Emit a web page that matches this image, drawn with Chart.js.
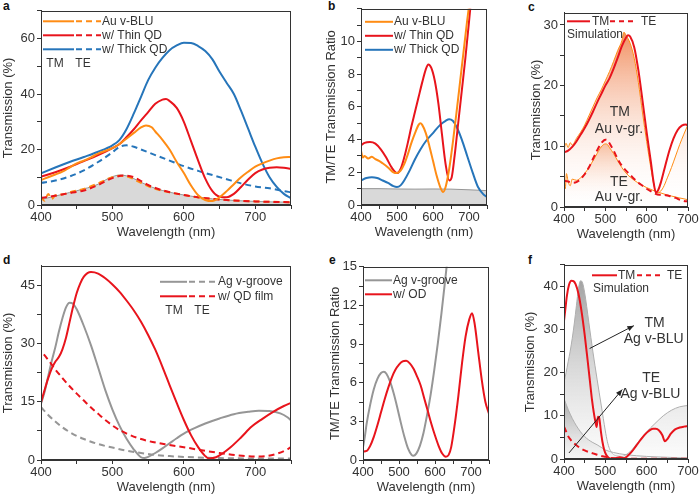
<!DOCTYPE html>
<html>
<head>
<meta charset="utf-8">
<script src="https://cdn.jsdelivr.net/npm/chart.js@4.4.1/dist/chart.umd.min.js"></script>
<style>
  body { margin: 0; background: #fff; width: 700px; height: 495px; position: relative; overflow: hidden; font-family: "Liberation Sans", Arial, sans-serif; }
  canvas { position: absolute; }
  .tag { position: absolute; font-weight: bold; font-size: 12px; line-height: 12px; color: #111; }
</style>
</head>
<body>
<div class="tag" style="left:3px;top:0px">a</div>
<div class="tag" style="left:328px;top:0px">b</div>
<div class="tag" style="left:528px;top:1px">c</div>
<div class="tag" style="left:3px;top:254px">d</div>
<div class="tag" style="left:329px;top:254px">e</div>
<div class="tag" style="left:528px;top:254px">f</div>

<script>
// ---- panel a : transmission, Au v-BLU / thin QD / thick QD ----
const aWlOrangeTM = [400,410,420,430,440,450,460,470,480,490,500,510,520,530,540,547,555,560,570,580,590,600,610,620,630,640,650,660,670,680,690,700,710,720,730,740,750];
const aOrangeTM   = [9,10,11,12,13.5,15,16,17.2,18.5,19.5,20.5,22,24,26,28,28.7,28,26.5,23.5,20,15.5,11.5,7,3.5,1.8,1.4,2.8,5,7.5,10,12,13.8,15,16,16.8,17.2,17.3];
const aWlRedTM = [400,420,440,460,480,500,510,520,530,540,550,560,570,575,580,590,600,610,620,630,640,650,660,670,680,690,700,710,720,730,740,750];
const aRedTM   = [10.2,11.8,13.7,15.8,18,20.5,22,24.5,27.3,30.5,33.5,36.5,38,38.2,37.5,35,30,23,16,9.5,5,3,2.8,4,6.5,9.2,11.5,12.8,13.4,13.6,13.4,13];
const aWlBlueTM = [400,420,440,460,480,500,510,520,530,540,550,560,570,580,590,600,610,620,630,640,650,660,670,680,690,700,710,720,730,740,750];
const aBlueTM   = [11.4,13.5,15.5,17.3,19.2,21.5,23.5,27.5,33,39,45,49.5,53,55.8,57.5,58.5,58.4,57.3,55.5,52.5,48,44,40,34,27.5,21,15,10,6.5,4,2.5];
const aWlBlueTE = [400,420,440,460,480,500,510,520,530,540,560,580,600,620,640,660,680,700,720,740,750];
const aBlueTE   = [8,8.8,10.3,12.5,15.5,19,21,21.5,21,20,18,16,14,12.3,10.8,9.3,7.8,6.7,6,5,4.6];
const aWlOrangeTE = [400,405,410,415,420,430,440,460,480,500,510,520,540,560,580,600,620,640,660,700,750];
const aOrangeTE   = [3,1.5,4,2.2,3.5,3.8,4.6,5.8,7.8,10,10.5,10.3,8,5.8,4.6,3.6,2.7,2.2,1.8,1.3,1];
const aWlRedTE = [400,420,440,460,480,500,515,530,550,570,600,620,650,700,750];
const aRedTE   = [2.5,3.3,4.3,5.2,7.2,9.7,10.6,10,7.2,5.3,3.6,2.8,2,1.3,1];
const aWlGrey = [400,420,440,460,480,490,500,510,520,530,540,550,560,580,600,620,640,660,680,700,725,750];
const aGrey   = [2,3.2,4.5,5.8,7.5,9,10.2,10.8,10.5,9.5,8.2,7,6,4.6,3.6,2.8,2.2,1.8,1.5,1.3,1.1,1];
const aLegend = ['Au v-BLU', 'w/ Thin QD', 'w/ Thick QD'];

// ---- panel b : TM/TE ratio ----
const bWlOrange = [400,405,410,420,430,440,450,460,475,490,500,510,520,530,540,550,560,565,570,580,590,600,610,620,628,635,645,655,665,675,685,695,705];
const bOrange   = [3.3,2.9,3.0,2.85,2.95,2.8,2.7,2.55,2.3,2.0,1.95,2.1,2.5,3.1,3.8,4.4,4.9,5.0,4.9,4.4,3.6,2.7,1.8,1.1,0.8,1.1,2.2,3.8,5.6,7.5,9.4,11.3,13];
const bWlRed = [400,410,425,440,455,470,485,500,510,520,530,540,550,560,570,580,587,595,605,615,625,635,645,652,660,670,680,690,700,706];
const bRed   = [3.65,3.8,3.85,3.75,3.4,2.9,2.3,1.95,2.2,2.9,3.8,4.8,5.7,6.6,7.5,8.3,8.6,8.4,7.6,6.2,4.3,2.5,1.5,1.7,3.0,5.0,7.0,9.0,11.2,12.6];
const bWlBlue = [400,415,430,445,460,475,490,500,510,520,535,550,565,580,600,620,635,645,655,665,680,695,710,725,740,750];
const bBlue   = [1.5,1.65,1.7,1.65,1.5,1.35,1.15,1.1,1.2,1.5,2.1,2.8,3.4,3.9,4.4,4.9,5.15,5.25,5.15,4.8,4.0,3.0,2.0,1.1,0.65,0.5];
const bWlGrey = [400,450,500,550,600,650,700,750];
const bGrey   = [1.0,1.0,0.98,0.97,0.98,0.97,0.93,0.88];

// ---- panel c : Au v-groove, simulation vs experiment ----
const cWlSimTM = [400,410,420,430,440,450,460,470,480,490,500,510,520,530,540,550,555,560,570,580,590,600,610,617,622,628,635,645,655,665,675,685,695,700];
const cSimTM   = [9,9.3,9.9,10.8,11.9,13,14.3,15.7,17.2,18.6,20,21.2,22.8,24.6,26.5,27.9,28.3,28.1,26.3,22.5,17.5,12.3,7.5,4,2.4,2.8,4.2,6.8,9.3,11.3,12.7,13.4,13.6,13.4];
const cWlSimTE = [400,410,420,430,440,450,460,470,480,490,500,505,510,520,530,540,550,560,570,580,590,600,610,620,630,640,650,660,670,680,690,700];
const cSimTE   = [4.3,4.2,4.0,4.1,4.6,5.4,6.5,7.9,9.3,10.5,11.1,11.0,10.5,9.3,7.9,6.8,6,5.3,4.6,4.0,3.5,3.0,2.6,2.2,2.0,2.0,1.9,1.7,1.5,1.2,1.0,0.9];
const cWlExpTM = [400,405,410,415,420,430,440,450,460,470,480,490,500,510,520,530,540,545,550,560,570,580,590,600,610,618,625,632,640,650,660,670,680,690,700];
const cExpTM   = [9.5,10.5,9.8,10.6,10.2,11.3,12.3,13.5,15,16.5,18,19.3,20.8,22.3,24,25.8,27.4,28.8,28.3,27,24.5,20.5,15.5,10.8,6.5,3.5,2.3,2.5,3.2,4.8,6.5,8.4,10.3,12,13.6];
const cWlExpTE = [400,403,406,410,415,420,430,440,450,460,470,480,490,500,505,510,520,530,540,550,570,600,630,660,700];
const cExpTE   = [5,3,5.5,4.2,3.5,4.6,4.4,4.8,5.5,6.5,7.6,8.8,9.9,10.4,10.3,9.8,8.8,7.6,6.5,5.6,4.4,3.2,2.4,1.8,1.2];

// ---- panel d : Ag v-groove, with QD film ----
const dWlGreyTM = [400,405,410,415,420,425,430,435,440,445,450,460,470,480,490,500,510,520,530,540,545,550,560,570,580,590,600,615,630,650,670,690,705,720,735,745,750];
const dGreyTM   = [14.5,17.5,21.5,25.5,29,33,36.5,39.3,40.5,40.2,38.8,34.5,29.5,23.8,18,13,8.8,5.4,2.7,0.7,0.5,0.8,1.8,3.0,4.3,5.6,6.8,8.2,9.4,10.7,11.8,12.4,12.7,12.6,12.0,11.0,10.2];
const dWlRedTM = [400,405,410,415,420,425,430,435,440,445,450,455,460,465,470,480,490,500,510,520,530,540,550,560,570,580,590,600,610,620,630,635,645,655,665,680,695,710,725,740,750];
const dRedTM   = [14.8,18,21,23.5,25.3,26.5,28.5,31.5,35.5,39.5,43,45.5,47.2,48.1,48.4,48.0,46.8,45.2,43.3,41,38.5,35.6,32.2,28.4,24,19.3,14.7,10.3,6.4,3.3,1.0,0.4,0.7,1.8,3.2,5.8,8.6,10.6,12.4,13.9,14.7];
const dWlRedTE = [404,410,420,430,440,450,460,470,480,490,500,510,520,535,550,575,600,625,650,675,700,715,730,740,750];
const dRedTE   = [27.2,25.8,23.3,21.1,19,17.1,15.3,13.5,11.9,10.3,8.9,7.7,6.8,5.7,4.9,4,3.3,2.5,1.8,1.2,0.9,1,1.6,2.3,3.3];
const dWlGreyTE = [400,410,420,430,440,450,460,470,480,490,500,520,540,560,580,600,650,700,750];
const dGreyTE   = [13.6,11.6,9.9,8.4,7.2,6.2,5.4,4.7,4.1,3.6,3.2,2.4,1.8,1.3,1.0,0.8,0.5,0.4,0.4];
const dLegend = ['Ag v-groove', 'w/ QD film'];

// ---- panel e : TM/TE ratio, Ag ----
const eWlGrey = [400,405,410,420,430,440,450,458,465,475,485,495,505,515,525,535,540,548,558,568,578,588,598,608,618,628,633];
const eGrey   = [1.0,1.8,2.8,4.3,5.5,6.3,6.75,6.85,6.7,6.1,5.2,4.1,2.9,1.8,0.9,0.4,0.33,0.5,1.1,2.1,3.5,5.1,7.0,9.1,11.4,13.9,15.2];
const eWlRed = [400,410,420,430,440,450,460,470,480,490,500,510,520,530,540,550,560,570,580,590,600,610,620,630,638,645,655,665,675,685,695,703,710,720,730,740,750];
const eRed   = [0.65,0.7,1.1,1.8,2.7,3.7,4.7,5.6,6.4,7.0,7.4,7.65,7.7,7.5,7.1,6.5,5.8,4.8,3.8,2.8,1.9,1.1,0.5,0.25,0.4,1.0,2.8,5.0,7.5,9.6,10.9,11.4,10.6,8.4,6.2,4.5,3.6];
const eLegend = ['Ag v-groove', 'w/ OD'];

// ---- panel f : Ag v-BLU, simulation vs experiment ----
const fWlSimTM = [400,403,407,412,418,423,428,435,442,450,457,463,468,472,476,479,482,485,489,493,497,502,508,515,525,535,545,555,565,575,585,595,605,615,622,630,638,644,650,658,668,680,690,700];
const fSimTM   = [32,34.5,37.8,40.3,41.3,41.2,40.5,38.3,34.5,28.8,23,17.8,13.5,10.8,8.6,7.4,9.8,9.6,6.6,4,2.2,1,0.3,0.1,0.2,0.4,0.2,0.8,1.8,3.1,4.4,5.6,6.5,7.0,7.0,6.6,5.5,4.1,4.6,5.8,6.8,7.3,7.5,7.6];
const fWlSimTE = [400,405,410,415,420,430,440,450,460,470,480,490,500,510,520,540,700];
const fSimTE   = [7.5,6.4,5.3,4.6,4,3.2,2.5,2.0,1.6,1.3,1.0,0.7,0.5,0.3,0.2,0.1,0.05];
const fWlExpTM = [400,405,410,415,420,425,430,435,440,445,450,455,460,470,480,490,500,505,510,515,520,530,540,550,560,570,580,590,600,620,640,660,680,700];
const fExpTM   = [17.8,20,22.5,25,28,31.5,35.5,39.5,41.3,40.8,38.5,35.3,31.7,24.8,18.5,12.5,6.5,4,2.4,1.5,1.0,0.7,0.6,1.0,1.7,2.8,4.0,5.2,6.3,8.2,10.0,11.3,12.1,12.4];
const fWlExpTE = [400,410,420,430,440,450,460,470,480,490,500,520,550,600,650,700];
const fExpTE   = [14,11.5,9.4,7.7,6.3,5.2,4.4,3.8,3.3,2.7,2.1,1.5,1.0,0.6,0.4,0.2];

const ORANGE = 'rgb(255,140,20)';
const RED = 'rgb(232,20,28)';
const BLUE = 'rgb(38,117,186)';
const GREY = 'rgb(150,150,150)';
const INK = '#333';
const DASH = [6, 4];
const FONT = '"Liberation Sans", Arial, sans-serif';

Chart.defaults.font.family = FONT;
Chart.defaults.color = INK;
Chart.defaults.animation = false;

function pts(xs, ys) {
  return xs.map((x, i) => ({ x: x, y: ys[i] }));
}

function line(xs, ys, color, extra) {
  return Object.assign({
    data: pts(xs, ys),
    borderColor: color,
    borderWidth: 2,
    pointRadius: 0,
    fill: false,
    cubicInterpolationMode: 'monotone'
  }, extra || {});
}

// vertical gradient between two values of the y scale
function vgrad(top, c0, c1) {
  return function (c) {
    const ch = c.chart;
    if (!ch.chartArea) return c0;
    const y = ch.scales.y;
    const g = ch.ctx.createLinearGradient(0, y.getPixelForValue(top), 0, y.getPixelForValue(0));
    g.addColorStop(0, c0);
    g.addColorStop(1, c1);
    return g;
  };
}

const boxPlugin = {
  id: 'box',
  afterDraw(chart) {
    const a = chart.chartArea, ctx = chart.ctx;
    ctx.save();
    ctx.strokeStyle = INK;
    ctx.lineWidth = 1;
    ctx.strokeRect(Math.round(a.left) + 0.5, Math.round(a.top) + 0.5, Math.round(a.right - a.left) - 1, Math.round(a.bottom - a.top) - 1);
    ctx.restore();
  }
};

// legend swatches, texts and arrows
function notesPlugin(notes) {
  return {
    id: 'notes',
    afterDatasetsDraw(chart) {
      const ctx = chart.ctx, a = chart.chartArea, sx = chart.scales.x, sy = chart.scales.y;
      ctx.save();
      notes.forEach(n => {
        if (n.seg) {
          ctx.strokeStyle = n.color;
          ctx.lineWidth = 2;
          ctx.setLineDash(n.dash || []);
          ctx.beginPath();
          ctx.moveTo(a.left + n.seg[0], a.top + n.y);
          ctx.lineTo(a.left + n.seg[1], a.top + n.y);
          ctx.stroke();
          ctx.setLineDash([]);
        } else if (n.text) {
          ctx.fillStyle = INK;
          ctx.font = (n.size || 12) + 'px ' + FONT;
          ctx.textAlign = n.align || 'left';
          ctx.textBaseline = 'middle';
          ctx.fillText(n.text, a.left + n.x, a.top + n.y);
        } else if (n.dtext) {
          ctx.fillStyle = INK;
          ctx.font = (n.size || 14) + 'px ' + FONT;
          ctx.textAlign = 'center';
          ctx.textBaseline = 'middle';
          ctx.fillText(n.dtext, sx.getPixelForValue(n.x), sy.getPixelForValue(n.y));
        } else if (n.arrow) {
          const x1 = sx.getPixelForValue(n.arrow[0]), y1 = sy.getPixelForValue(n.arrow[1]);
          const x2 = sx.getPixelForValue(n.arrow[2]), y2 = sy.getPixelForValue(n.arrow[3]);
          const ang = Math.atan2(y2 - y1, x2 - x1);
          ctx.strokeStyle = '#222';
          ctx.fillStyle = '#222';
          ctx.lineWidth = 1;
          ctx.beginPath();
          ctx.moveTo(x1, y1);
          ctx.lineTo(x2, y2);
          ctx.stroke();
          ctx.beginPath();
          ctx.moveTo(x2, y2);
          ctx.lineTo(x2 - 7 * Math.cos(ang - 0.4), y2 - 7 * Math.sin(ang - 0.4));
          ctx.lineTo(x2 - 7 * Math.cos(ang + 0.4), y2 - 7 * Math.sin(ang + 0.4));
          ctx.closePath();
          ctx.fill();
        }
      });
      ctx.restore();
    }
  };
}

function isMult(v, m) {
  return Math.abs(v / m - Math.round(v / m)) < 1e-6;
}

function panel(g, datasets, notes) {
  const cv = document.createElement('canvas');
  const padTop = 8, padRight = 12, xH = 36;
  const w = g.R - g.L + g.padL + padRight;
  const h = g.B - g.T + padTop + xH;
  cv.width = w;
  cv.height = h;
  cv.style.left = (g.L - g.padL) + 'px';
  cv.style.top = (g.T - padTop) + 'px';
  cv.style.width = w + 'px';
  cv.style.height = h + 'px';
  document.body.appendChild(cv);

  const grid = { drawOnChartArea: false, tickLength: 4, color: INK };
  new Chart(cv, {
    type: 'line',
    data: { datasets: datasets },
    options: {
      responsive: false,
      maintainAspectRatio: false,
      layout: { padding: { top: padTop, right: padRight, left: 0, bottom: 0 } },
      plugins: { legend: { display: false }, tooltip: { enabled: false } },
      scales: {
        x: {
          type: 'linear', min: 400, max: g.xmax,
          afterFit: s => { s.height = xH; },
          grid: grid, border: { color: INK },
          ticks: { stepSize: 50, autoSkip: false, maxRotation: 0, includeBounds: false, padding: 1,
                   font: { size: 13 }, color: INK, callback: v => isMult(v, 100) ? String(v) : '' },
          title: { display: true, text: 'Wavelength (nm)', font: { size: 13 }, color: INK, padding: { top: 0, bottom: 1 } }
        },
        y: {
          type: 'linear', min: 0, max: g.ymax,
          afterFit: s => { s.width = g.padL; },
          grid: grid, border: { color: INK },
          ticks: { stepSize: g.ystep, autoSkip: false, includeBounds: false, padding: 2,
                   font: { size: 13 }, color: INK,
                   callback: v => (isMult(v, g.ylab) && v <= g.ytop) ? String(v) : '' },
          title: { display: true, text: g.ytitle, font: { size: 13 }, color: INK, padding: 0 }
        }
      }
    },
    plugins: [notesPlugin(notes), boxPlugin]
  });
}

const greyFill = 'rgb(217,217,217)';

// a
panel({ L: 41, T: 9, R: 291, B: 205, padL: 40, xmax: 750, ymax: 70, ystep: 10, ylab: 20, ytop: 60, ytitle: 'Transmission (%)' }, [
  line(aWlOrangeTM, aOrangeTM, ORANGE, { order: 1 }),
  line(aWlRedTM, aRedTM, RED, { order: 2 }),
  line(aWlBlueTM, aBlueTM, BLUE, { order: 3 }),
  line(aWlBlueTE, aBlueTE, BLUE, { borderDash: DASH, order: 4 }),
  line(aWlRedTE, aRedTE, RED, { borderDash: DASH, order: 5 }),
  line(aWlOrangeTE, aOrangeTE, ORANGE, { borderDash: DASH, order: 6 }),
  line(aWlGrey, aGrey, GREY, { borderWidth: 1, fill: 'origin', backgroundColor: greyFill, order: 9 })
], [
  { seg: [2, 33], y: 10.5, color: ORANGE }, { seg: [35, 60], y: 10.5, color: ORANGE, dash: DASH }, { text: aLegend[0], x: 61, y: 10.5 },
  { seg: [2, 33], y: 24.5, color: RED }, { seg: [35, 60], y: 24.5, color: RED, dash: DASH }, { text: aLegend[1], x: 61, y: 24.5 },
  { seg: [2, 33], y: 38.5, color: BLUE }, { seg: [35, 60], y: 38.5, color: BLUE, dash: DASH }, { text: aLegend[2], x: 61, y: 38.5 },
  { text: 'TM', x: 14, y: 53, align: 'center' }, { text: 'TE', x: 42, y: 53, align: 'center' }
]);

// b
panel({ L: 361, T: 7, R: 487, B: 205, padL: 37, xmax: 750, ymax: 12, ystep: 1, ylab: 2, ytop: 10, ytitle: 'TM/TE Transmission Ratio' }, [
  line(bWlOrange, bOrange, ORANGE, { order: 1 }),
  line(bWlRed, bRed, RED, { order: 2 }),
  line(bWlBlue, bBlue, BLUE, { order: 3 }),
  line(bWlGrey, bGrey, GREY, { borderWidth: 1, fill: 'origin', backgroundColor: greyFill, order: 9 })
], [
  { seg: [4, 32], y: 13, color: ORANGE }, { text: aLegend[0], x: 33, y: 13 },
  { seg: [4, 32], y: 27, color: RED }, { text: aLegend[1], x: 33, y: 27 },
  { seg: [4, 32], y: 41, color: BLUE }, { text: aLegend[2], x: 33, y: 41 }
]);

// c
panel({ L: 564, T: 11, R: 688, B: 207, padL: 35, xmax: 700, ymax: 32, ystep: 5, ylab: 10, ytop: 30, ytitle: 'Transmission (%)' }, [
  line(cWlSimTM, cSimTM, RED, { order: 1 }),
  line(cWlSimTE, cSimTE, RED, { borderDash: DASH, order: 2 }),
  line(cWlExpTE, cExpTE, ORANGE, { borderWidth: 1, fill: 'origin', order: 7,
    backgroundColor: vgrad(10.5, 'rgba(242,150,100,0.55)', 'rgba(255,255,255,0)') }),
  line(cWlExpTM, cExpTM, ORANGE, { borderWidth: 1, fill: 'origin', order: 8,
    backgroundColor: vgrad(29, 'rgba(240,135,85,0.95)', 'rgba(255,255,255,0)') })
], [
  { seg: [3, 26], y: 8.5, color: RED }, { text: 'TM', x: 28, y: 8.5 },
  { seg: [46, 71], y: 8.5, color: RED, dash: [5, 4] }, { text: 'TE', x: 77, y: 8.5 },
  { text: 'Simulation', x: 3, y: 22 },
  { dtext: 'TM', x: 535, y: 15.6 }, { dtext: 'Au v-gr.', x: 533, y: 12.9 },
  { dtext: 'TE', x: 533, y: 4.1 }, { dtext: 'Au v-gr.', x: 533, y: 1.6 }
]);

// d
panel({ L: 41, T: 264, R: 291, B: 460, padL: 40, xmax: 750, ymax: 50, ystep: 7.5, ylab: 15, ytop: 45, ytitle: 'Transmission (%)' }, [
  line(dWlRedTM, dRedTM, RED, { order: 1 }),
  line(dWlRedTE, dRedTE, RED, { borderDash: DASH, order: 2 }),
  line(dWlGreyTM, dGreyTM, GREY, { order: 3 }),
  line(dWlGreyTE, dGreyTE, GREY, { borderDash: DASH, order: 4 })
], [
  { seg: [119, 146], y: 16, color: GREY }, { seg: [148, 176], y: 16, color: GREY, dash: DASH }, { text: dLegend[0], x: 177, y: 16 },
  { seg: [119, 146], y: 30.5, color: RED }, { seg: [148, 176], y: 30.5, color: RED, dash: DASH }, { text: dLegend[1], x: 177, y: 30.5 },
  { text: 'TM', x: 133, y: 45, align: 'center' }, { text: 'TE', x: 161, y: 45, align: 'center' }
]);

// e
panel({ L: 363, T: 265, R: 489, B: 460, padL: 35, xmax: 750, ymax: 15, ystep: 1.5, ylab: 3, ytop: 15, ytitle: 'TM/TE Transmission Ratio' }, [
  line(eWlRed, eRed, RED, { order: 1 }),
  line(eWlGrey, eGrey, GREY, { order: 2 })
], [
  { seg: [2, 29], y: 13.5, color: GREY }, { text: eLegend[0], x: 30, y: 13.5 },
  { seg: [2, 29], y: 27.5, color: RED }, { text: eLegend[1], x: 30, y: 27.5 }
]);

// f
panel({ L: 564, T: 263, R: 688, B: 459, padL: 41, xmax: 700, ymax: 45, ystep: 5, ylab: 10, ytop: 40, ytitle: 'Transmission (%)' }, [
  line(fWlSimTM, fSimTM, RED, { order: 1 }),
  line(fWlSimTE, fSimTE, RED, { borderDash: DASH, order: 2 }),
  line(fWlExpTE, fExpTE, 'rgb(175,175,175)', { borderWidth: 1, fill: 'origin', order: 7,
    backgroundColor: vgrad(14, 'rgba(140,140,140,0.7)', 'rgba(235,235,235,0.3)') }),
  line(fWlExpTM, fExpTM, 'rgb(175,175,175)', { borderWidth: 1, fill: 'origin', order: 8,
    backgroundColor: vgrad(42, 'rgba(150,150,150,0.9)', 'rgba(245,245,245,0.4)') })
], [
  { seg: [28, 53], y: 10.5, color: RED }, { text: 'TM', x: 54, y: 10.5 },
  { seg: [73, 99], y: 10.5, color: RED, dash: [5, 4] }, { text: 'TE', x: 103, y: 10.5 },
  { text: 'Simulation', x: 29, y: 24 },
  { arrow: [462, 25.6, 569, 30.9] }, { arrow: [412, 1.4, 541, 16.1] },
  { dtext: 'TM', x: 619, y: 31.5 }, { dtext: 'Ag v-BLU', x: 617, y: 27.7 },
  { dtext: 'TE', x: 611, y: 18.8 }, { dtext: 'Ag v-BLU', x: 609, y: 15.1 }
]);
</script>
</body>
</html>
